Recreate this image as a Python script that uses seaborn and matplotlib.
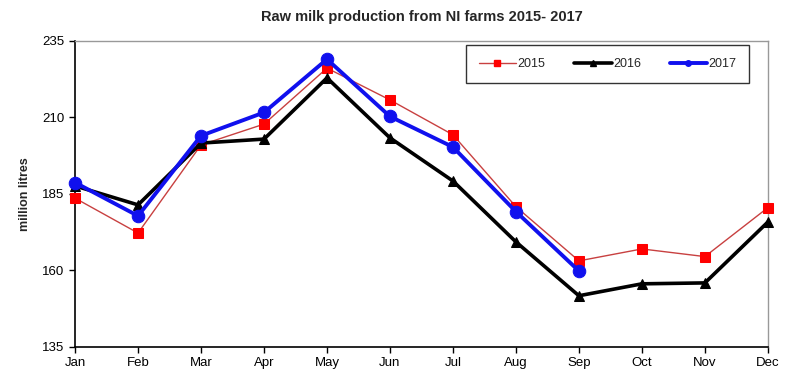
import matplotlib
matplotlib.use("Agg")
import matplotlib.pyplot as plt
import seaborn as sns
import pandas as pd

# monthly raw milk production, million litres
months = ["Jan", "Feb", "Mar", "Apr", "May", "Jun", "Jul", "Aug", "Sep", "Oct", "Nov", "Dec"]
milk_2015 = [183.6, 172.2, 201.0, 207.8, 226.1, 215.7, 204.3, 180.8, 163.1, 167.0, 164.5, 180.5]
milk_2016 = [187.6, 181.4, 201.6, 202.9, 222.9, 203.3, 189.2, 169.3, 151.7, 155.6, 155.9, 175.8]
milk_2017 = [188.7, 177.8, 204.0, 211.6, 229.0, 210.3, 200.3, 179.2, 159.8]
y_ticks = [135, 160, 185, 210, 235]

series = {"2015": milk_2015, "2016": milk_2016, "2017": milk_2017}
rows = []
for yr, vals in series.items():
    for i, v in enumerate(vals):
        rows.append({"year": yr, "month": i, "value": v})
df = pd.DataFrame(rows)

sns.set_style("white")
plt.rcParams["font.family"] = ["Liberation Sans", "DejaVu Sans"]

styles = {
    "2015": dict(color="#ff0000", marker="s", lw=1.0, ms=7, line="#c84040"),
    "2016": dict(color="black", marker="^", lw=2.6, ms=7, line="black"),
    "2017": dict(color="#1010ee", marker="o", lw=2.8, ms=9, line="#1010ee"),
}

fig, ax = plt.subplots(figsize=(7.9, 3.82), dpi=100)
fig.subplots_adjust(left=0.095, right=0.972, top=0.893, bottom=0.092)

handles = []
for yr in ["2015", "2016", "2017"]:
    st = styles[yr]
    sub = df[df["year"] == yr]
    sns.lineplot(data=sub, x="month", y="value", ax=ax, color=st["line"], lw=st["lw"],
                 marker=st["marker"], markersize=st["ms"], markerfacecolor=st["color"],
                 markeredgecolor=st["color"], legend=False, clip_on=False, zorder=3)
    h, = ax.plot([], [], color=st["line"], lw=st["lw"], marker=st["marker"], markersize=4,
                 markerfacecolor=st["color"], markeredgecolor=st["color"])
    handles.append(h)

ax.set_xlim(0, 11)
ax.set_ylim(135, 235)
ax.set_xticks(range(12))
ax.set_xticklabels(months)
ax.set_yticks(y_ticks)
ax.tick_params(axis="both", direction="out", length=4, width=1, colors="black", labelsize=9.5, bottom=True, left=True)
ax.set_xlabel("")
ax.set_ylabel("million litres", fontsize=9, fontweight="bold", labelpad=8)
ax.set_title("Raw milk production from NI farms 2015- 2017", fontsize=10.5, fontweight="bold", pad=14)

for side in ["left", "bottom"]:
    ax.spines[side].set_color("black")
    ax.spines[side].set_linewidth(1.2)
for side in ["top", "right"]:
    ax.spines[side].set_color("#999999")
    ax.spines[side].set_linewidth(1.0)

leg = ax.legend(handles, ["2015", "2016", "2017"], ncol=3, loc="upper right",
                bbox_to_anchor=(0.977, 0.995), frameon=True, fancybox=False,
                fontsize=9, handlelength=3.0, handletextpad=0.1, columnspacing=2.3,
                borderpad=1.05, borderaxespad=0.2)
leg.get_frame().set_edgecolor("black")
leg.get_frame().set_linewidth(1.0)

plt.savefig("out.png", dpi=100)
